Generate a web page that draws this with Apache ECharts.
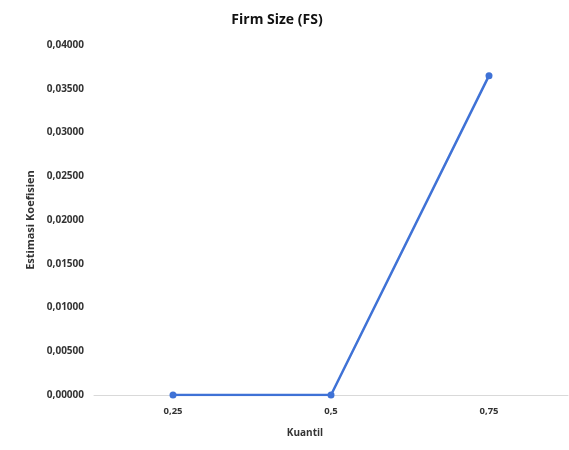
<!DOCTYPE html>
<html>
<head>
<meta charset="utf-8">
<script src="https://cdn.jsdelivr.net/npm/echarts@6/dist/echarts.min.js"></script>
<style>html,body{margin:0;padding:0;background:#fff}#c{width:569px;height:450px}</style>
</head>
<body>
<div id="c"></div>
<script>
var categories = ['0,25', '0,5', '0,75'];
var values = [0.0000, 0.0000, 0.0365];
var titleText = 'Firm Size (FS)';
var xName = 'Kuantil';
var yName = 'Estimasi Koefisien';

var chart = echarts.init(document.getElementById('c'), null, {renderer: 'canvas'});
chart.setOption({
  animation: false,
  backgroundColor: '#ffffff',
  title: {
    text: titleText,
    left: 272, top: 8, textAlign: 'center',
    textStyle: {fontFamily: 'Open Sans', fontSize: 14, fontWeight: 'bold', color: '#111'}
  },
  grid: {left: 94, right: 1, top: 45, bottom: 55},
  xAxis: {
    type: 'category',
    data: categories,
    boundaryGap: true,
    name: xName,
    nameLocation: 'middle',
    nameGap: 33,
    nameTextStyle: {fontFamily: 'Open Sans', fontSize: 10, fontWeight: 'bold', color: '#333', padding: [0, 52, 0, 0]},
    axisLine: {show: true, lineStyle: {color: '#d9d9d9', width: 1}},
    axisTick: {show: false},
    axisLabel: {fontFamily: 'Open Sans', fontSize: 9.5, fontWeight: 'bold', color: '#333', margin: 11}
  },
  yAxis: {
    type: 'value',
    min: 0, max: 0.04, interval: 0.005,
    name: yName,
    nameLocation: 'middle',
    nameGap: 46,
    nameTextStyle: {fontFamily: 'Open Sans', fontSize: 11, fontWeight: 'bold', color: '#333'},
    axisLine: {show: false},
    axisTick: {show: false},
    splitLine: {show: false},
    axisLabel: {
      fontFamily: 'Open Sans', fontSize: 10, fontWeight: 'bold', color: '#333', margin: 10,
      formatter: function (v) { return v.toFixed(5).replace('.', ','); }
    }
  },
  series: [{
    type: 'line',
    data: values,
    symbol: 'circle',
    symbolSize: 7,
    lineStyle: {color: '#3f72d6', width: 2.5},
    itemStyle: {color: '#3f72d6'}
  }]
});
</script>
</body>
</html>
